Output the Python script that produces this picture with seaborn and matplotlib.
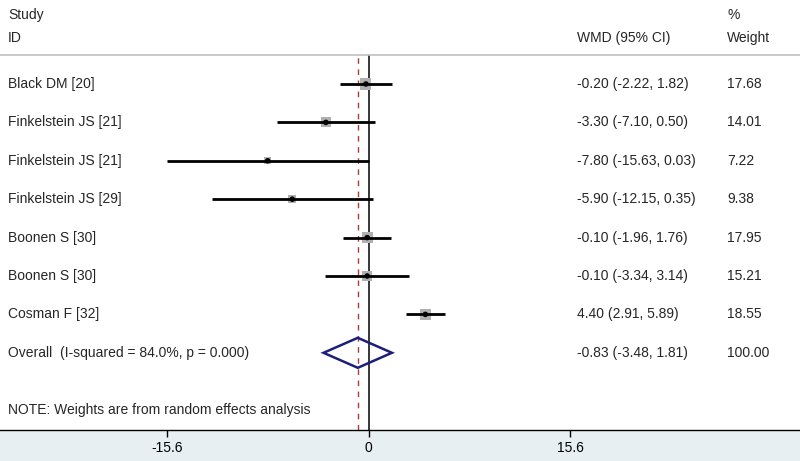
import matplotlib
matplotlib.use("Agg")
import matplotlib.pyplot as plt
from matplotlib.patches import Rectangle
import seaborn as sns
import pandas as pd
import numpy as np

studies = ["Black DM [20]", "Finkelstein JS [21]", "Finkelstein JS [21]",
           "Finkelstein JS [29]", "Boonen S [30]", "Boonen S [30]", "Cosman F [32]"]
wmd = [-0.20, -3.30, -7.80, -5.90, -0.10, -0.10, 4.40]
lower = [-2.22, -7.10, -15.63, -12.15, -1.96, -3.34, 2.91]
upper = [1.82, 0.50, 0.03, 0.35, 1.76, 3.14, 5.89]
weights = [17.68, 14.01, 7.22, 9.38, 17.95, 15.21, 18.55]
overall_label = "Overall  (I-squared = 84.0%, p = 0.000)"
overall = [-0.83, -3.48, 1.81]
overall_weight = 100.00
xticks = [-15.6, 0, 15.6]
note = "NOTE: Weights are from random effects analysis"

df = pd.DataFrame({"study": studies, "wmd": wmd, "lo": lower, "hi": upper, "w": weights})
df["row"] = np.arange(len(df))

sns.set_style("white")
plt.rcParams["font.family"] = ["Liberation Sans", "DejaVu Sans"]

W, H = 800, 461
fig = plt.figure(figsize=(8, 4.61), dpi=100)
fig.patch.set_facecolor("white")
# bottom band (behind axes and tick labels)
fig.patches.append(Rectangle((0, 0), 1, (H - 430) / H, transform=fig.transFigure,
                             facecolor="#e8eff2", edgecolor="none", zorder=-5))

ax_top_px, ax_bot_px = 55, 430
ax = fig.add_axes([0, (H - ax_bot_px) / H, 1, (ax_bot_px - ax_top_px) / H])
ax.set_facecolor("white")

# x scale: 0 at px 368.5, 12.92 px per unit
x0, ppu = 368.5, 12.92
ax.set_xlim(-x0 / ppu, (W - x0) / ppu)
# y: rows, row 0 at px 84, spacing 38.4
r0, rs = 84, 38.4
ax.set_ylim((ax_bot_px - r0) / rs, (ax_top_px - r0) / rs)

# reference lines
ax.axvline(0, color="black", lw=1.1, zorder=1)
ax.axvline(overall[0], color="#b03a3a", lw=1.0, ls=(0, (4, 4)), zorder=1)

# weight squares (area proportional to weight)
ax.scatter(df["wmd"], df["row"], s=df["w"] * 3.6, marker="s", color="#b0b0b0",
           edgecolors="none", zorder=2)
# CI lines
ax.hlines(df["row"], df["lo"], df["hi"], color="black", lw=2, zorder=3)
sns.scatterplot(data=df, x="wmd", y="row", marker="o", color="black", s=16,
                edgecolor="none", legend=False, ax=ax, zorder=5)

# diamond
orow = len(df)
dh = 15 / rs
ax.fill([overall[1], overall[0], overall[2], overall[0], overall[1]],
        [orow, orow - dh, orow, orow + dh, orow], facecolor="none",
        edgecolor="#1c1f7a", lw=1.8, zorder=5)

# spines and ticks
for s in ["left", "right"]:
    ax.spines[s].set_visible(False)
ax.spines["top"].set_color("#c0c0c0")
ax.spines["top"].set_linewidth(1.2)
ax.spines["bottom"].set_color("black")
ax.spines["bottom"].set_linewidth(1.0)
ax.spines["bottom"].set_zorder(6)
ax.set_yticks([])
ax.set_xticks(xticks)
ax.set_xticklabels(["-15.6", "0", "15.6"])
ax.tick_params(axis="x", bottom=True, direction="out", length=5, width=1, labelsize=10,
               pad=3, color="black", labelcolor="black")
ax.set_xlabel("")
ax.set_ylabel("")

fs = 10
tr_l = ax.get_yaxis_transform()  # x in axes coords, y in data
xl, xw, xp = 8 / W, 577 / W, 727 / W
for i, r in df.iterrows():
    ax.text(xl, r["row"], r["study"], transform=tr_l, va="center", ha="left", fontsize=fs)
    ax.text(xw, r["row"], f"{r['wmd']:.2f} ({r['lo']:.2f}, {r['hi']:.2f})",
            transform=tr_l, va="center", ha="left", fontsize=fs)
    ax.text(xp, r["row"], f"{r['w']:.2f}", transform=tr_l, va="center", ha="left", fontsize=fs)
ax.text(xl, orow, overall_label, transform=tr_l, va="center", ha="left", fontsize=fs)
ax.text(xw, orow, f"{overall[0]:.2f} ({overall[1]:.2f}, {overall[2]:.2f})",
        transform=tr_l, va="center", ha="left", fontsize=fs)
ax.text(xp, orow, f"{overall_weight:.2f}", transform=tr_l, va="center", ha="left", fontsize=fs)
ax.text(xl, orow + 1.5, note, transform=tr_l, va="center", ha="left", fontsize=fs)

# header
fig.text(xl, 1 - 15 / H, "Study", va="center", ha="left", fontsize=fs)
fig.text(xl, 1 - 38 / H, "ID", va="center", ha="left", fontsize=fs)
fig.text(xw, 1 - 38 / H, "WMD (95% CI)", va="center", ha="left", fontsize=fs)
fig.text(xp, 1 - 15 / H, "%", va="center", ha="left", fontsize=fs)
fig.text(xp, 1 - 38 / H, "Weight", va="center", ha="left", fontsize=fs)

fig.savefig("out.png", dpi=100)
